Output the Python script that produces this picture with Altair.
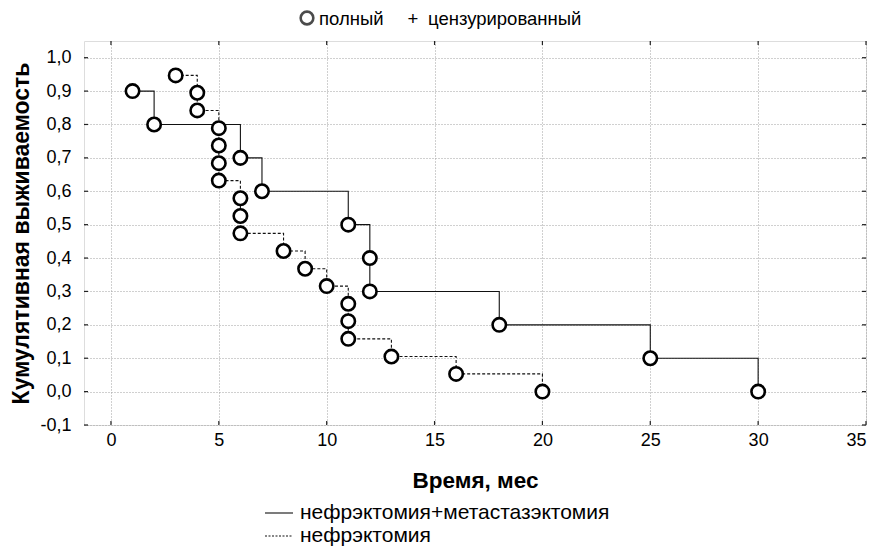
import altair as alt
import pandas as pd

# ---- data ----
group_names = ["нефрэктомия+метастазэктомия", "нефрэктомия"]

t_solid = [1, 2, 6, 7, 11, 12, 12, 18, 25, 30]
s_solid = [0.9, 0.8, 0.7, 0.6, 0.5, 0.4, 0.3, 0.2, 0.1, 0.0]

t_dash = [3, 4, 4, 5, 5, 5, 5, 6, 6, 6, 8, 9, 10, 11, 11, 11, 13, 16, 20]
s_dash = [0.947, 0.895, 0.842, 0.789, 0.737, 0.684, 0.632, 0.579, 0.526, 0.474,
          0.421, 0.368, 0.316, 0.263, 0.211, 0.158, 0.105, 0.053, 0.0]

x_ticks = [0, 5, 10, 15, 20, 25, 30, 35]
y_ticks = [-0.1, 0.0, 0.1, 0.2, 0.3, 0.4, 0.5, 0.6, 0.7, 0.8, 0.9, 1.0]

x_title = "Время, мес"
y_title = "Кумулятивная выживаемость"
top_legend = ["полный", "+", "цензурированный"]

FONT = "Liberation Sans"
W, H = 782, 384

rows = []
for i, (t, s) in enumerate(zip(t_solid, s_solid)):
    rows.append({"group": group_names[0], "t": t, "s": s, "ord": i})
for i, (t, s) in enumerate(zip(t_dash, s_dash)):
    rows.append({"group": group_names[1], "t": t, "s": s, "ord": i})
df = pd.DataFrame(rows)

xscale = alt.Scale(domain=[-1.25, 35], nice=False, zero=False)
yscale = alt.Scale(domain=[-0.1, 1.05], nice=False, zero=False)

xaxis = alt.Axis(values=x_ticks, grid=True, gridDash=[1, 2], gridColor="#a0a0a0",
                 domain=False, ticks=False, labelPadding=6, labelFontSize=18,
                 labelFont=FONT, labelColor="#000", title=x_title, titleFont=FONT,
                 titleFontSize=22.5, titleFontWeight="bold", titlePadding=20, titleColor="#000")
yaxis = alt.Axis(values=y_ticks, grid=True, gridDash=[1, 2], gridColor="#a0a0a0",
                 domain=False, ticks=False, labelPadding=13, labelFontSize=18,
                 labelFont=FONT, labelColor="#000",
                 labelExpr="replace(replace(format(datum.value,'.1f'),'.',','),'\u2212','-')",
                 title=y_title, titleFont=FONT, titleFontSize=23, titleFontWeight="bold",
                 titlePadding=6, titleColor="#000")

base = alt.Chart(df)

lines = base.mark_line(interpolate="step-after", strokeWidth=1.1, color="#111").encode(
    x=alt.X("t:Q", scale=xscale, axis=xaxis),
    y=alt.Y("s:Q", scale=yscale, axis=yaxis),
    detail="group:N",
    order="ord:Q",
    strokeDash=alt.StrokeDash("group:N", scale=alt.Scale(domain=group_names, range=[[1, 0], [3, 2]]), legend=None),
)

points = base.mark_point(shape="circle", filled=False, fill="white", fillOpacity=1,
                         stroke="#000", strokeWidth=2.6, size=180, opacity=1).encode(
    x=alt.X("t:Q", scale=xscale, axis=xaxis),
    y=alt.Y("s:Q", scale=yscale, axis=yaxis),
)

xt = alt.Chart(pd.DataFrame({"t": x_ticks}))
yt = alt.Chart(pd.DataFrame({"s": y_ticks}))
tick_style = dict(color="#222", strokeWidth=1.2)
ticks_bottom = xt.mark_rule(**tick_style).encode(x=alt.X("t:Q", scale=xscale, axis=xaxis), y=alt.value(H), y2=alt.value(H - 4))
ticks_top = xt.mark_rule(**tick_style).encode(x=alt.X("t:Q", scale=xscale, axis=xaxis), y=alt.value(0), y2=alt.value(4))
ticks_left = yt.mark_rule(**tick_style).encode(y=alt.Y("s:Q", scale=yscale, axis=yaxis), x=alt.value(0), x2=alt.value(4))
ticks_right = yt.mark_rule(**tick_style).encode(y=alt.Y("s:Q", scale=yscale, axis=yaxis), x=alt.value(W), x2=alt.value(W - 4))

one = alt.Chart(pd.DataFrame({"k": [0]}))
LFS = 18.5
LY = -16.5
leg_circle = one.mark_point(shape="circle", filled=False, fill="white", stroke="#000",
                            strokeWidth=2.6, size=160).encode(x=alt.value(223), y=alt.value(-23))
leg_full = one.mark_text(align="left", baseline="alphabetic", font=FONT, fontSize=LFS, color="#000").encode(
    x=alt.value(235), y=alt.value(LY), text=alt.value(top_legend[0]))
leg_plus = one.mark_text(align="center", baseline="alphabetic", font=FONT, fontSize=LFS, color="#000").encode(
    x=alt.value(329), y=alt.value(LY), text=alt.value(top_legend[1]))
leg_cens = one.mark_text(align="left", baseline="alphabetic", font=FONT, fontSize=LFS, color="#000").encode(
    x=alt.value(344), y=alt.value(LY), text=alt.value(top_legend[2]))

BFS = 21
leg_line1 = one.mark_rule(color="#111", strokeWidth=1.1).encode(x=alt.value(181), x2=alt.value(209), y=alt.value(472))
leg_line2 = one.mark_rule(color="#111", strokeWidth=1.1, strokeDash=[2, 1.5]).encode(x=alt.value(181), x2=alt.value(209), y=alt.value(495))
leg_t1 = one.mark_text(align="left", baseline="middle", font=FONT, fontSize=BFS, color="#000").encode(
    x=alt.value(216), y=alt.value(472), text=alt.value(group_names[0]))
leg_t2 = one.mark_text(align="left", baseline="middle", font=FONT, fontSize=BFS, color="#000").encode(
    x=alt.value(216), y=alt.value(495), text=alt.value(group_names[1]))

chart = alt.layer(
    lines, points, ticks_bottom, ticks_top, ticks_left, ticks_right,
    leg_circle, leg_full, leg_plus, leg_cens, leg_line1, leg_line2, leg_t1, leg_t2,
).properties(
    width=W, height=H,
    autosize=alt.AutoSizeParams(type="none"),
    padding={"left": 76, "top": 33, "right": 8, "bottom": 123},
).configure_view(
    stroke="#333", strokeWidth=1.3
).configure(background="white")

chart.save("out.html", embed_options={"renderer": "svg", "actions": False})
